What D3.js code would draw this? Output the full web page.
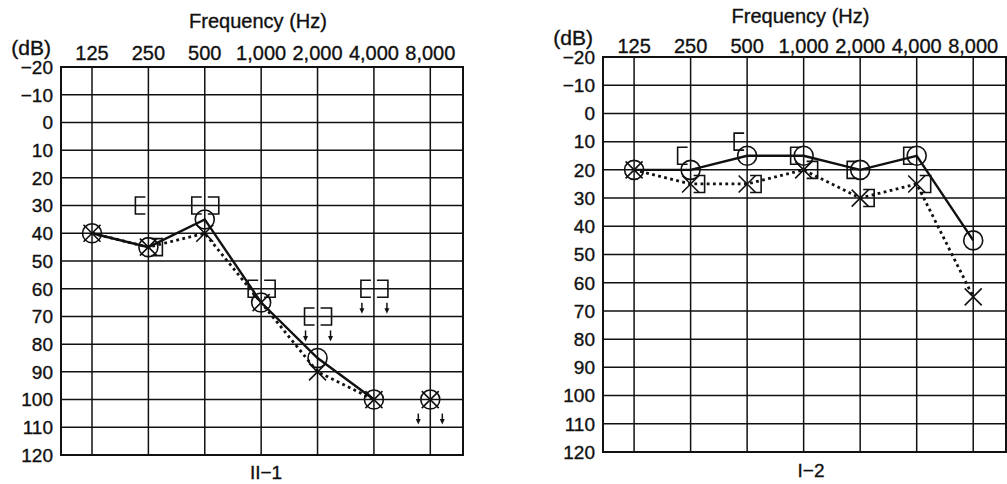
<!DOCTYPE html>
<html>
<head>
<meta charset="utf-8">
<script src="https://cdn.jsdelivr.net/npm/d3@7"></script>
<style>
  body { margin: 0; background: #fff; }
  svg text { font-family: 'Liberation Sans', Arial, sans-serif; fill: #111; stroke: #111; stroke-width: 0.35px; }
</style>
</head>
<body>
<svg></svg>
<script>
const w = 1007;
const h = 484;
const svg = d3.select('svg').attr('width', w).attr('height', h);

// axis labels
const freqLabels = ['125', '250', '500', '1,000', '2,000', '4,000', '8,000'];
const dbTicks = [-20, -10, 0, 10, 20, 30, 40, 50, 60, 70, 80, 90, 100, 110, 120];

// II-1 (left chart), dB HL per frequency, null = not tested
const ii1RightAir = [40, 45, 35, 65, 85, 100, 100];
const ii1LeftAir = [40, 45, 40, 65, 90, 100, 100];
const ii1AirNoResponse = [false, false, false, false, false, false, true];
const ii1RightBone = [null, 30, 30, 60, 70, 60, null];
const ii1LeftBone = [null, 45, 30, 60, 70, 60, null];
const ii1BoneNoResponse = [false, false, false, false, true, true, false];

// I-2 (right chart)
const i2RightAir = [20, 20, 15, 15, 20, 15, 45];
const i2LeftAir = [20, 25, 25, 20, 30, 25, 65];
const i2AirNoResponse = [false, false, false, false, false, false, false];
const i2RightBone = [null, 15, 10, 15, 20, 15, null];
const i2LeftBone = [null, 25, 25, 20, 30, 25, null];
const i2BoneNoResponse = [false, false, false, false, false, false, false];

const panels = [
  {
    label: 'II\u22121', labelX: 266, labelY: 479,
    left: 61, right: 463, top: 67, bottom: 455, tickY: 60, titleY: 28,
    rightAir: ii1RightAir, leftAir: ii1LeftAir, airNR: ii1AirNoResponse,
    rightBone: ii1RightBone, leftBone: ii1LeftBone, boneNR: ii1BoneNoResponse,
  },
  {
    label: 'I\u22122', labelX: 811, labelY: 477,
    left: 603, right: 1006, top: 57, bottom: 452, tickY: 53, titleY: 23,
    rightAir: i2RightAir, leftAir: i2LeftAir, airNR: i2AirNoResponse,
    rightBone: i2RightBone, leftBone: i2LeftBone, boneNR: i2BoneNoResponse,
  },
];

const ink = '#111';
const idx = freqLabels.map((d, i) => i);

function downArrow(g, ax, cy) {
  g.append('line')
    .attr('x1', ax).attr('x2', ax)
    .attr('y1', cy + 14).attr('y2', cy + 21)
    .attr('stroke', ink).attr('stroke-width', 1.5);
  g.append('path')
    .attr('d', `M${ax - 2.5},${cy + 19.5}L${ax + 2.5},${cy + 19.5}L${ax},${cy + 25}Z`)
    .attr('fill', ink);
}

function drawPanel(p) {
  const g = svg.append('g');
  const xScale = d3.scaleLinear().domain([-0.55, 6.58]).range([p.left, p.right]);
  const yScale = d3.scaleLinear().domain([-20, 120]).range([p.top, p.bottom]);

  // grid
  g.selectAll('.hgrid')
    .data(dbTicks)
    .enter()
    .append('line')
    .attr('x1', p.left).attr('x2', p.right)
    .attr('y1', (d) => yScale(d)).attr('y2', (d) => yScale(d))
    .attr('stroke', ink).attr('stroke-width', 1.5);

  g.selectAll('.vgrid')
    .data(idx)
    .enter()
    .append('line')
    .attr('x1', (d) => xScale(d)).attr('x2', (d) => xScale(d))
    .attr('y1', p.top).attr('y2', p.bottom)
    .attr('stroke', ink).attr('stroke-width', 1.5);

  g.append('rect')
    .attr('x', p.left).attr('y', p.top)
    .attr('width', p.right - p.left).attr('height', p.bottom - p.top)
    .attr('fill', 'none').attr('stroke', ink).attr('stroke-width', 2);

  // labels
  g.selectAll('.flabel')
    .data(freqLabels)
    .enter()
    .append('text')
    .attr('x', (d, i) => xScale(i))
    .attr('y', p.tickY)
    .attr('text-anchor', 'middle')
    .attr('font-size', 20)
    .text((d) => d);

  g.selectAll('.dblabel')
    .data(dbTicks)
    .enter()
    .append('text')
    .attr('x', p.left - 8)
    .attr('y', (d) => yScale(d))
    .attr('dy', '0.36em')
    .attr('text-anchor', 'end')
    .attr('font-size', 19)
    .text((d) => (d < 0 ? '\u2212' + Math.abs(d) : d));

  g.append('text')
    .attr('x', p.left - 10)
    .attr('y', p.top - 12)
    .attr('text-anchor', 'end')
    .attr('font-size', 21)
    .text('(dB)');

  g.append('text')
    .attr('x', (p.left + p.right) / 2 - 4)
    .attr('y', p.titleY)
    .attr('text-anchor', 'middle')
    .attr('font-size', 20)
    .text('Frequency (Hz)');

  g.append('text')
    .attr('x', p.labelX)
    .attr('y', p.labelY)
    .attr('text-anchor', 'middle')
    .attr('font-size', 19)
    .text(p.label);

  // air conduction lines
  const line = d3
    .line()
    .defined((d) => d.v != null && !d.nr)
    .x((d) => xScale(d.i))
    .y((d) => yScale(d.v));

  const rightPts = p.rightAir.map((v, i) => ({ i, v, nr: p.airNR[i] }));
  const leftPts = p.leftAir.map((v, i) => ({ i, v, nr: p.airNR[i] }));

  g.append('path')
    .datum(leftPts)
    .attr('d', line)
    .attr('fill', 'none')
    .attr('stroke', ink)
    .attr('stroke-width', 2.8)
    .attr('stroke-dasharray', '2.8 3.4');

  g.append('path')
    .datum(rightPts)
    .attr('d', line)
    .attr('fill', 'none')
    .attr('stroke', ink)
    .attr('stroke-width', 2.4);

  // right ear: circles
  g.selectAll('.ro')
    .data(rightPts.filter((d) => d.v != null))
    .enter()
    .append('circle')
    .attr('cx', (d) => xScale(d.i))
    .attr('cy', (d) => yScale(d.v))
    .attr('r', 9.5)
    .attr('fill', 'none')
    .attr('stroke', ink)
    .attr('stroke-width', 1.6);

  // left ear: crosses
  g.selectAll('.lx')
    .data(leftPts.filter((d) => d.v != null))
    .enter()
    .append('path')
    .attr('d', (d) => {
      const cx = xScale(d.i);
      const cy = yScale(d.v);
      const s = 8.5;
      return `M${cx - s},${cy - s}L${cx + s},${cy + s}M${cx + s},${cy - s}L${cx - s},${cy + s}`;
    })
    .attr('fill', 'none')
    .attr('stroke', ink)
    .attr('stroke-width', 1.6);

  // bone conduction brackets
  const hb = 8.5;
  p.rightBone.forEach((v, i) => {
    if (v == null) return;
    const cx = xScale(i);
    const cy = yScale(v);
    g.append('path')
      .attr('d', `M${cx - 3},${cy - hb}H${cx - 13}V${cy + hb}H${cx - 3}`)
      .attr('fill', 'none').attr('stroke', ink).attr('stroke-width', 1.6);
    if (p.boneNR[i]) downArrow(g, cx - 12, cy);
  });
  p.leftBone.forEach((v, i) => {
    if (v == null) return;
    const cx = xScale(i);
    const cy = yScale(v);
    g.append('path')
      .attr('d', `M${cx + 3},${cy - hb}H${cx + 14}V${cy + hb}H${cx + 3}`)
      .attr('fill', 'none').attr('stroke', ink).attr('stroke-width', 1.6);
    if (p.boneNR[i]) downArrow(g, cx + 13, cy);
  });

  // no response arrows on air conduction
  p.airNR.forEach((nr, i) => {
    if (!nr) return;
    if (p.rightAir[i] != null) downArrow(g, xScale(i) - 12, yScale(p.rightAir[i]));
    if (p.leftAir[i] != null) downArrow(g, xScale(i) + 12, yScale(p.leftAir[i]));
  });
}

panels.forEach(drawPanel);
</script>
</body>
</html>
